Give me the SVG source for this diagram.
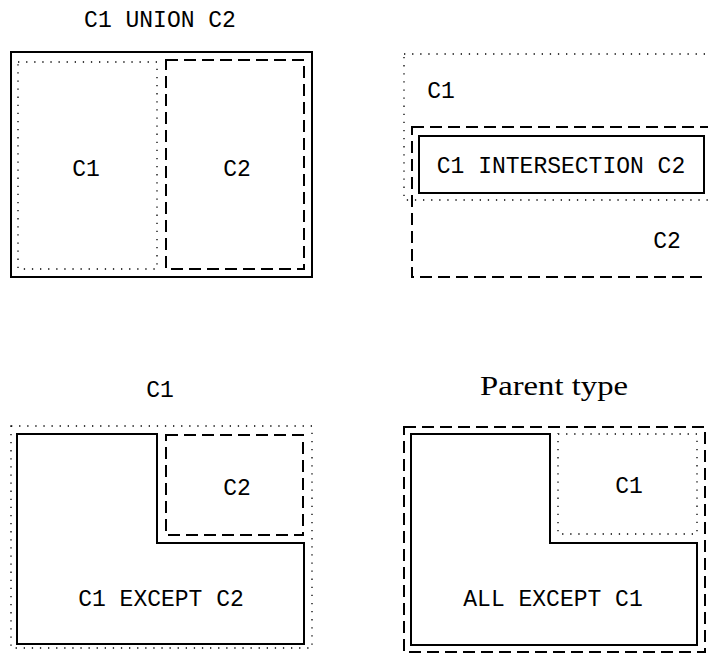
<svg xmlns="http://www.w3.org/2000/svg" width="708" height="654" viewBox="0 0 708 654">
<style>
.solid{fill:none;stroke:#000;stroke-width:2}
.dot{fill:none;stroke:#000;stroke-width:1.3;stroke-dasharray:1.3 6.8}
.dash{fill:none;stroke:#000;stroke-width:2;stroke-dasharray:12 6}
.mono{font-family:"Liberation Mono","DejaVu Sans Mono",monospace;font-size:23px;fill:#000;text-anchor:middle}
.serif{font-family:"Liberation Serif","DejaVu Serif",serif;font-size:27px;fill:#000;text-anchor:middle}
</style>
<rect width="708" height="654" fill="#fff"/>
<g id="union">
<text class="mono" x="160" y="27">C1 UNION C2</text>
<rect class="solid" x="11" y="52" width="301" height="225"/>
<rect class="dot" x="18" y="62" width="139" height="207"/>
<rect class="dash" x="166" y="60" width="138" height="209"/>
<text class="mono" x="86" y="176">C1</text>
<text class="mono" x="237" y="176">C2</text>
</g>
<g id="intersection">
<rect class="dot" x="404" y="54" width="330" height="146"/>
<rect class="dash" x="412" y="127" width="322" height="150"/>
<rect class="solid" x="419" y="136" width="285" height="57"/>
<text class="mono" x="441" y="98">C1</text>
<text class="mono" x="667" y="248">C2</text>
<text class="mono" x="561" y="173">C1 INTERSECTION C2</text>
</g>
<g id="except">
<text class="mono" x="160" y="397">C1</text>
<rect class="dot" x="11" y="426" width="301" height="222"/>
<path class="solid" d="M17 434 H157 V543 H304 V644 H17 Z"/>
<rect class="dash" x="166" y="435" width="137" height="100"/>
<text class="mono" x="237" y="495">C2</text>
<text class="mono" x="161" y="606">C1 EXCEPT C2</text>
</g>
<g id="all-except">
<text class="serif" x="554" y="395" textLength="148" lengthAdjust="spacingAndGlyphs">Parent type</text>
<rect class="dash" x="404" y="427" width="301" height="225"/>
<path class="solid" d="M411 434 H550 V543 H697 V645 H411 Z"/>
<rect class="dot" x="558" y="434" width="139" height="100"/>
<text class="mono" x="629" y="493">C1</text>
<text class="mono" x="553" y="606">ALL EXCEPT C1</text>
</g>
<g id="connectors"/>
</svg>
